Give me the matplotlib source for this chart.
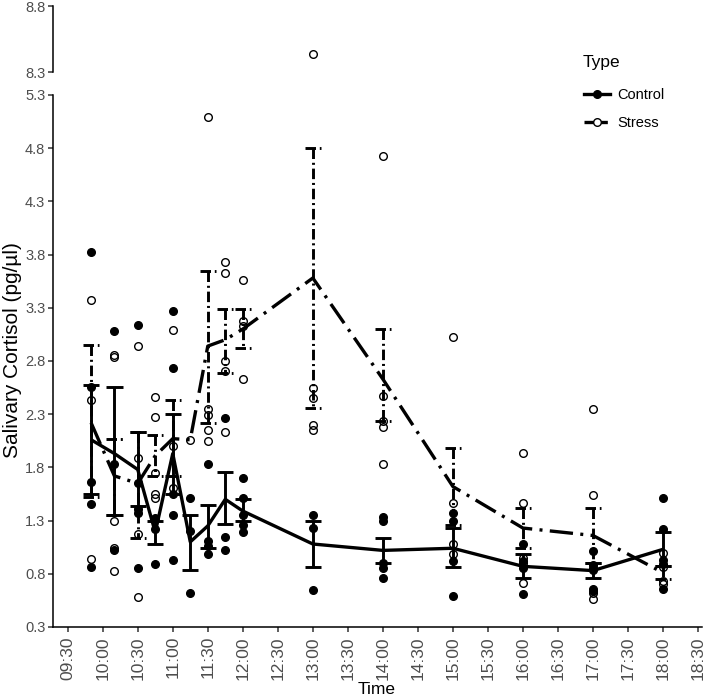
import numpy as np
import matplotlib.pyplot as plt
from matplotlib.lines import Line2D

plt.rcParams['font.family'] = ['Liberation Sans', 'DejaVu Sans']

# sampling times
times = ["09:50", "10:10", "10:30", "10:45", "11:00", "11:15", "11:30", "11:45",
         "12:00", "13:00", "14:00", "15:00", "16:00", "17:00", "18:00"]

# summary values (mean and error bar ends)
control_mean = [2.06, 1.93, 1.78, 1.19, 1.93, 1.10, 1.25, 1.50, 1.39, 1.08, 1.02, 1.04, 0.87, 0.83, 1.03]
control_low = [1.55, 1.35, 1.44, 1.08, 1.55, 0.84, 1.04, 1.27, 1.30, 0.86, 0.90, 0.86, 0.76, 0.76, 0.87]
control_high = [2.57, 2.56, 2.13, 1.30, 2.30, 1.35, 1.45, 1.76, 1.50, 1.30, 1.14, 1.23, 0.99, 0.90, 1.19]

stress_mean = [2.22, 1.72, 1.65, 1.91, 2.07, 2.06, 2.94, 3.00, 3.10, 3.58, 2.63, 1.62, 1.23, 1.16, 0.81]
stress_low = [1.52, 1.35, 1.14, 1.72, 1.72, np.nan, 2.22, 2.69, 2.92, 2.36, 2.24, 1.26, 1.04, 0.90, 0.75]
stress_high = [2.95, 2.07, 2.13, 2.10, 2.43, np.nan, 3.65, 3.29, 3.29, 4.80, 3.10, 1.98, 1.42, 1.42, 0.87]

# individual samples, one list per time
control_points = [
    [3.82, 2.56, 1.66, 1.46, 0.86],
    [3.08, 1.83, 1.02],
    [3.14, 1.65, 1.41, 1.37, 0.85],
    [1.32, 1.22, 0.89],
    [3.27, 2.73, 1.55, 1.35, 0.93],
    [1.51, 1.20, 0.62],
    [1.83, 1.11, 1.06, 0.99],
    [2.26, 1.15, 1.02],
    [1.70, 1.51, 1.35, 1.26, 1.19],
    [1.35, 1.23, 0.65],
    [1.33, 1.30, 0.90, 0.85, 0.76],
    [1.37, 1.30, 0.92, 0.59],
    [1.08, 0.92, 0.85, 0.61],
    [1.01, 0.88, 0.84, 0.66, 0.64],
    [1.51, 1.22, 0.93, 0.89, 0.66],
]
stress_points = [
    [3.37, 2.43, 0.94],
    [2.86, 2.84, 1.30, 1.04, 0.83],
    [2.94, 1.89, 1.17, 0.58],
    [2.46, 2.27, 1.75, 1.55, 1.51],
    [3.09, 2.00, 1.61],
    [2.06],
    [5.09, 2.35, 2.29, 2.15, 2.05],
    [3.73, 3.63, 2.80, 2.71, 2.13],
    [3.56, 3.18, 3.13, 2.63],
    [8.44, 2.55, 2.45, 2.20, 2.15],
    [4.73, 2.47, 2.24, 2.18, 1.83],
    [3.03, 1.47, 1.08, 0.99],
    [1.94, 1.47, 0.95, 0.90, 0.71],
    [2.35, 1.54, 0.85, 0.62, 0.56],
    [1.00, 0.86, 0.73, 0.70],
]

tick_times = ["%02d:%02d" % (h, m) for h in range(9, 19) for m in (0, 30)][1:]


def to_min(t):
    h, m = t.split(":")
    return int(h) * 60 + int(m)


x = np.array([to_min(t) for t in times])
tick_x = [to_min(t) for t in tick_times]

W, H = 708, 699
fig = plt.figure(figsize=(W / 100, H / 100), dpi=100)
ax = fig.add_axes([53 / W, 72 / H, 649 / W, 532 / H])
ax_top = fig.add_axes([53 / W, 627 / H, 649 / W, 66 / H])

LW = 2.4
EW = 2.1
mean_dash = (0, (7.0, 2.2, 0.9, 2.2))
bar_dash = (0, (3.6, 1.3, 0.7, 1.3))
cap = 7  # minutes each side

for a in (ax, ax_top):
    for i, t in enumerate(x):
        a.plot([t] * len(control_points[i]), control_points[i], 'o', color='black',
               markersize=5.5, zorder=2)
        a.plot([t] * len(stress_points[i]), stress_points[i], 'o', markerfacecolor='none',
               markeredgecolor='black', markeredgewidth=1.0, markersize=5.5, zorder=2)

    a.vlines(x, control_low, control_high, color='black', lw=EW, zorder=3)
    a.hlines(control_low, x - cap, x + cap, color='black', lw=EW, zorder=3)
    a.hlines(control_high, x - cap, x + cap, color='black', lw=EW, zorder=3)

    a.vlines(x, stress_high, stress_low, color='black', lw=EW, linestyles=[bar_dash], zorder=3)
    a.hlines(stress_low, x - cap, x + cap, color='black', lw=EW, linestyles=[bar_dash], zorder=3)
    a.hlines(stress_high, x - cap, x + cap, color='black', lw=EW, linestyles=[bar_dash], zorder=3)

    a.plot(x, control_mean, color='black', lw=LW, solid_capstyle='butt', zorder=4)
    a.plot(x, stress_mean, color='black', lw=LW, linestyle=mean_dash, zorder=4)

    a.set_xlim(557.4, 1113.4)
    for s in ('top', 'right'):
        a.spines[s].set_visible(False)
    a.spines['left'].set_linewidth(1.1)
    a.tick_params(axis='y', labelsize=10.5, labelcolor='#4D4D4D', color='#333333',
                  length=3.5, width=1.1, pad=2)

ax.set_ylim(0.3, 5.3)
ax.set_yticks(np.arange(0.3, 5.31, 0.5))
ax.set_yticklabels(["%.1f" % v for v in np.arange(0.3, 5.31, 0.5)])
ax.spines['bottom'].set_linewidth(1.1)
ax.set_xticks(tick_x)
ax.set_xticklabels(tick_times, rotation=90)
ax.tick_params(axis='x', labelsize=12.5, labelcolor='#4D4D4D', color='#333333',
               length=3.5, width=1.1, pad=3)

ax_top.set_ylim(8.3, 8.8)
ax_top.set_yticks([8.3, 8.8])
ax_top.set_yticklabels(["8.3", "8.8"])
ax_top.spines['bottom'].set_visible(False)
ax_top.set_xticks([])

fig.text(377 / W, 1 - 689 / H, "Time", ha='center', va='center', fontsize=12.5)
fig.text(13 / W, 1 - 350 / H, "Salivary Cortisol (pg/\u00b5l)", rotation=90,
         ha='center', va='center', fontsize=15)

# legend: title placed separately so the gap to the first key matches
fig.text(583 / W, 1 - 63 / H, "Type", ha='left', va='center', fontsize=12.5)
handles = [
    Line2D([], [], color='black', lw=LW, marker='o', markersize=5.5),
    Line2D([], [], color='black', lw=LW, linestyle=mean_dash, marker='o',
           markerfacecolor='white', markeredgewidth=1.0, markersize=5.5),
]
fig.legend(handles, ["Control", "Stress"], loc='upper left',
           bbox_to_anchor=(571 / W, 1 - 75 / H), frameon=False, fontsize=10.5,
           handlelength=1.8, labelspacing=0.95, handletextpad=0.5)

fig.savefig("out.png", dpi=100)
